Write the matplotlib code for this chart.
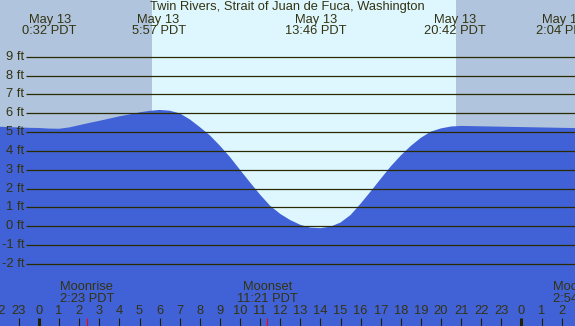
import matplotlib.pyplot as plt
import matplotlib.transforms as mtransforms

plt.rcParams['font.family'] = ['Liberation Sans', 'DejaVu Sans']

# tide height (ft), half-hourly, hours from midnight May 13
hours = [-2.0, -1.5, -1.0, -0.5, 0.0, 0.5, 1.0, 1.5, 2.0, 2.5, 3.0, 3.5, 4.0, 4.5,
         5.0, 5.5, 6.0, 6.5, 7.0, 7.5, 8.0, 8.5, 9.0, 9.5, 10.0, 10.5, 11.0, 11.5,
         12.0, 12.5, 13.0, 13.5, 14.0, 14.5, 15.0, 15.5, 16.0, 16.5, 17.0, 17.5,
         18.0, 18.5, 19.0, 19.5, 20.0, 20.5, 21.0, 21.5, 22.0, 22.5, 23.0, 23.5,
         24.0, 24.5, 25.0, 25.5, 26.0, 26.5, 27.0]
heights = [5.29, 5.27, 5.25, 5.23, 5.22, 5.19, 5.18, 5.25, 5.37, 5.49, 5.60, 5.72, 5.84, 5.94,
           6.05, 6.13, 6.18, 6.14, 6.00, 5.68, 5.27, 4.83, 4.28, 3.68, 3.00, 2.33, 1.68, 1.09,
           0.66, 0.33, 0.08, -0.07, -0.10, -0.02, 0.20, 0.60, 1.20, 1.85, 2.52, 3.18,
           3.76, 4.27, 4.70, 5.03, 5.20, 5.30, 5.33, 5.32, 5.31, 5.30, 5.29, 5.28,
           5.27, 5.26, 5.25, 5.24, 5.23, 5.22, 5.22]

# tide extremes shown at the top
tide_hours = [0.53, 5.95, 13.77, 20.7, 26.07]
tide_labels = ['0:32 PDT', '5:57 PDT', '13:46 PDT', '20:42 PDT', '2:04 PDT']

# moon events at the bottom
moon_hours = [2.38, 11.35, 26.9]
moon_names = ['Moonrise', 'Moonset', 'Moonrise']
moon_labels = ['2:23 PDT', '11:21 PDT', '2:54 PDT']

# sunrise / sunset (shading)
sunrise = 5.62
sunset = 20.75

hour_ticks = list(range(-2, 27))
grid_levels = list(range(-2, 10))

W, H = 575, 326
px_per_hour = 20.1
x0_px = 39.0
px_per_ft = 18.83
y0_px = 226.3

xmin = -x0_px / px_per_hour
xmax = (W - x0_px) / px_per_hour
ymin = (y0_px - H) / px_per_ft
ymax = y0_px / px_per_ft

night = '#b0c4de'
day = '#def7ff'
water = '#4161d6'
ink = '#333311'
grid_c = '#2a2a00'
fs = 9.3

fig = plt.figure(figsize=(W / 100, H / 100), dpi=100)
ax = fig.add_axes([0, 0, 1, 1])
ax.set_xlim(xmin, xmax)
ax.set_ylim(ymin, ymax)
ax.axis('off')

# night / day background
ax.axvspan(xmin, sunrise, color=night, lw=0, zorder=0)
ax.axvspan(sunrise, sunset, color=day, lw=0, zorder=0)
ax.axvspan(sunset, xmax, color=night, lw=0, zorder=0)

# water
ax.fill_between(hours, heights, ymin, color=water, lw=0, zorder=1)

# height grid
grid_start = (26 - x0_px) / px_per_hour
ax.hlines(grid_levels, grid_start, xmax, color=grid_c, lw=0.9, zorder=2)
for lv in grid_levels:
    ax.text((24 - x0_px) / px_per_hour, lv, f'{lv} ft', ha='right', va='center',
            fontsize=fs, color=ink, zorder=3)

trans = mtransforms.blended_transform_factory(ax.transData, ax.transAxes)


def fy(py):
    return 1 - py / H


ax.text(0.5, fy(7), 'Twin Rivers, Strait of Juan de Fuca, Washington',
        transform=ax.transAxes, ha='center', va='center', fontsize=fs, color=ink)
for h, lab in zip(tide_hours, tide_labels):
    ax.text(h, fy(19.5), 'May 13', transform=trans, ha='center', va='center',
            fontsize=fs, color=ink)
    ax.text(h, fy(31.5), lab, transform=trans, ha='center', va='center',
            fontsize=fs, color=ink)

for h, name, lab in zip(moon_hours, moon_names, moon_labels):
    ax.text(h, fy(287.5), name, transform=trans, ha='center', va='center',
            fontsize=fs, color=ink)
    ax.text(h, fy(299.5), lab, transform=trans, ha='center', va='center',
            fontsize=fs, color=ink)
    ax.vlines(h, 0, fy(318), transform=trans, color='red', lw=0.8)

# hour axis
for h in hour_ticks:
    ax.text(h, fy(311), str(h % 24), transform=trans, ha='center', va='center',
            fontsize=fs, color=ink)
    ax.vlines(h, 0, fy(318), transform=trans, color='#222200',
              lw=2.2 if h % 24 == 0 else 0.8)

fig.savefig('out.png', dpi=100)
